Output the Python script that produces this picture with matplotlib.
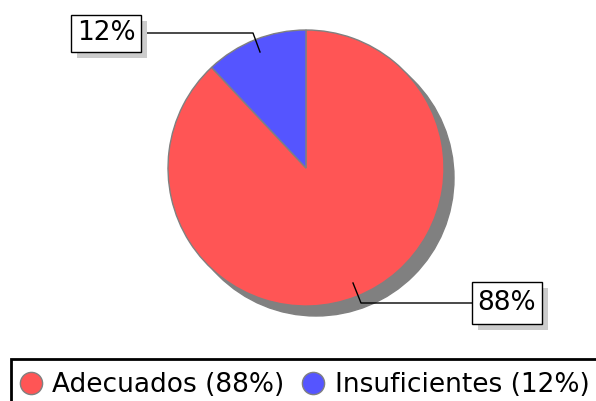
import matplotlib.pyplot as plt
from matplotlib.patches import Circle, Rectangle
from matplotlib.lines import Line2D

labels = ['Adecuados', 'Insuficientes']
values = [88, 12]
colors = ['#ff5555', '#5555ff']

W, H = 596, 401
fig = plt.figure(figsize=(W / 100, H / 100), dpi=100)
ax = fig.add_axes([0, 0, 1, 1])

cx, cy, r = 306, H - 168, 138

# shadow under the pie
ax.add_patch(Circle((cx + 10, cy - 10), r, color='#808080', zorder=1))

wedges, _ = ax.pie(values, colors=colors, startangle=90, counterclock=False,
                   center=(cx, cy), radius=r, frame=True,
                   wedgeprops=dict(edgecolor='#808080', linewidth=1))
for w in wedges:
    w.set_zorder(2)
ax.set_xlim(0, W)
ax.set_ylim(0, H)
ax.set_aspect('equal')
ax.axis('off')


def label_box(text, x0, y0, x1, y1, line):
    # line points given in pixels from the top-left corner
    xs = [p[0] for p in line]
    ys = [H - p[1] for p in line]
    ax.plot(xs, ys, color='black', lw=1, zorder=3)
    ax.add_patch(Rectangle((x0 + 6, H - y1 - 6), x1 - x0, y1 - y0,
                           facecolor='#cccccc', edgecolor='none', zorder=4))
    ax.add_patch(Rectangle((x0, H - y1), x1 - x0, y1 - y0,
                           facecolor='white', edgecolor='black', lw=1, zorder=5))
    ax.text((x0 + x1) / 2, H - (y0 + y1) / 2, text, ha='center', va='center',
            fontsize=19, zorder=6)


label_box('12%', 71, 15, 141, 52, [(260, 52), (253, 33), (141, 33)])
label_box('88%', 472, 282, 542, 324, [(353, 283), (361, 303), (472, 303)])

# legend frame runs off the bottom and right edges
ax.add_patch(Rectangle((11, -20), 620, H - 359 + 20, facecolor='none',
                       edgecolor='black', lw=2, clip_on=False, zorder=7))

handles = [Line2D([], [], marker='o', ls='none', markersize=16,
                  markerfacecolor=c, markeredgecolor='#808080')
           for c in colors]
leg_labels = [f'{l} ({v}%)' for l, v in zip(labels, values)]
leg = fig.legend(handles, leg_labels, loc='center left',
                 bbox_to_anchor=(20.5 / W, 1 - 385 / H), ncol=2,
                 fontsize=19, frameon=False, borderpad=0,
                 handlelength=0.8, handletextpad=0.4,
                 columnspacing=0.7, borderaxespad=0)

plt.savefig('out.png', dpi=100)
